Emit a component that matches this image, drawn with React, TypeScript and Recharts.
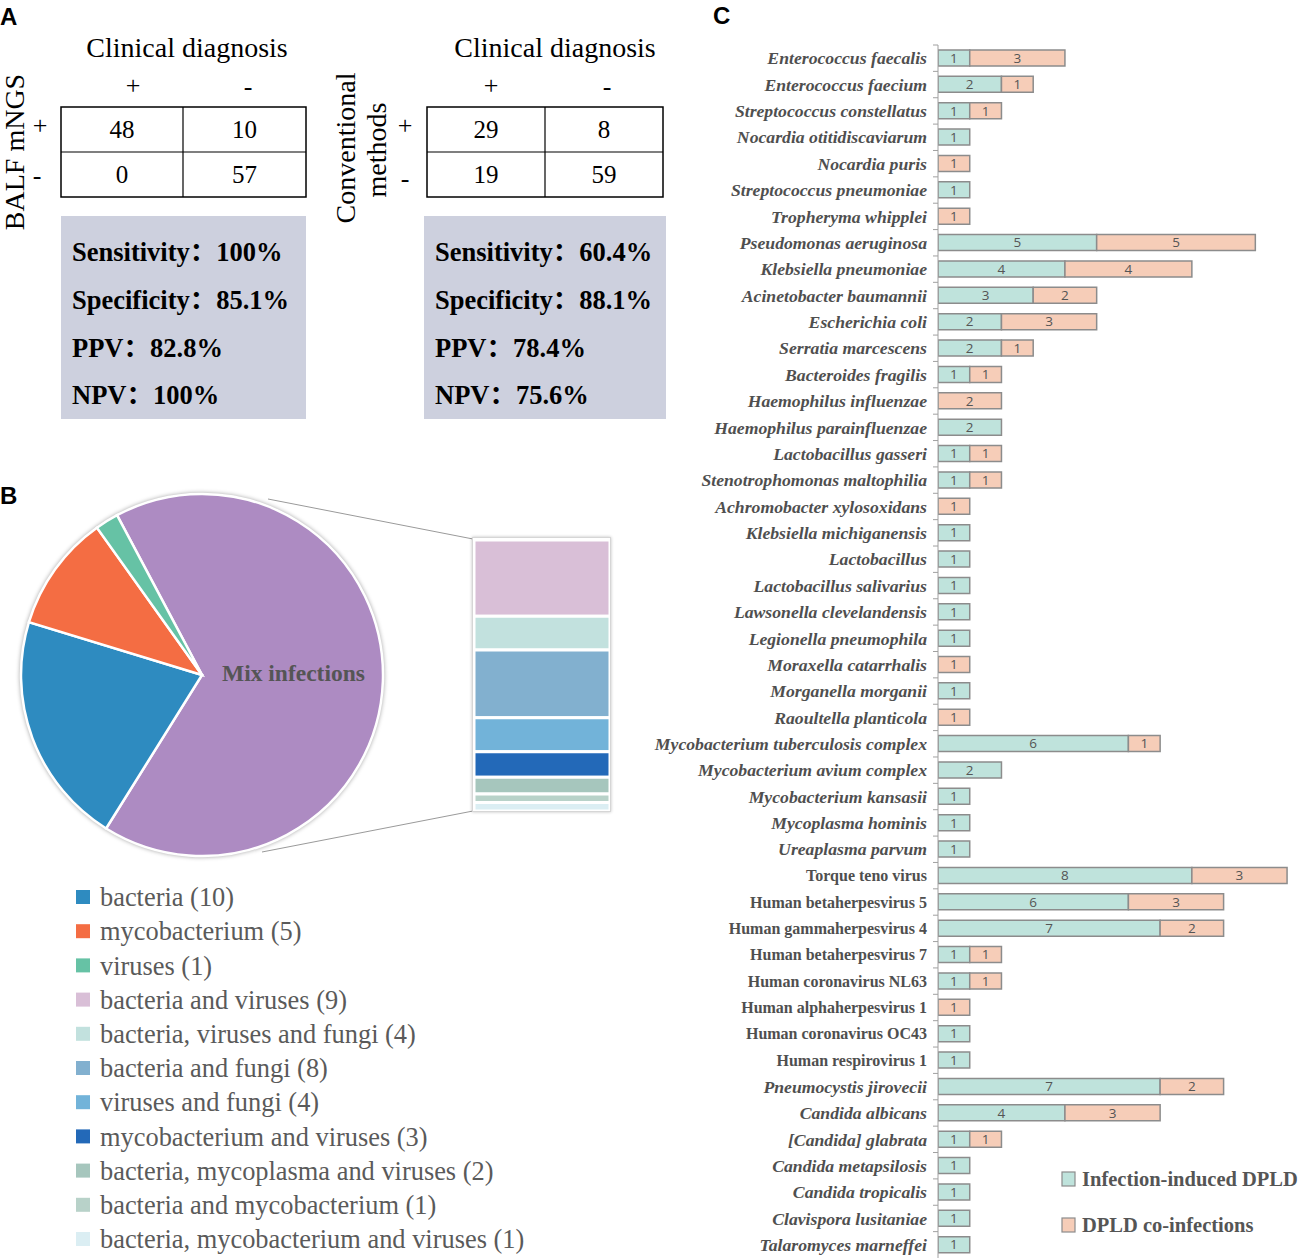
import { Bar, BarChart, Cell, LabelList, Pie, PieChart, XAxis, YAxis } from 'recharts'

const SERIF = '"Liberation Serif", "Times New Roman", "Noto Sans CJK SC", serif'
const SANS = '"Liberation Sans", Arial, sans-serif'

// ---- panel A ----
const mngsTable = [[48, 10], [0, 57]]
const conventionalTable = [[29, 8], [19, 59]]
const mngsStats = ['Sensitivity：100%', 'Specificity：85.1%', 'PPV：82.8%', 'NPV：100%']
const conventionalStats = ['Sensitivity：60.4%', 'Specificity：88.1%', 'PPV：78.4%', 'NPV：75.6%']

// ---- panel B ----
const pieNames = ['Mix infections', 'bacteria', 'mycobacterium', 'viruses']
const pieValues = [32, 10, 5, 1]
const pieColors = ['#ad8bc2', '#2e8bc0', '#f46d43', '#66c2a5']

const mixNames = [
  'bacteria and viruses',
  'bacteria, viruses and fungi',
  'bacteria and fungi',
  'viruses and fungi',
  'mycobacterium and viruses',
  'bacteria, mycoplasma and viruses',
  'bacteria and mycobacterium',
  'bacteria, mycobacterium and viruses',
]
const mixValues = [9, 4, 8, 4, 3, 2, 1, 1]
const mixColors = ['#d9bfd7', '#c2e1de', '#82b0cf', '#72b3d9', '#2369b8', '#a6c6bd', '#b8d2c9', '#dbeef3']

// ---- panel C ----
const pathogens = [
  'Enterococcus faecalis', 'Enterococcus faecium', 'Streptococcus constellatus', 'Nocardia otitidiscaviarum',
  'Nocardia puris', 'Streptococcus pneumoniae', 'Tropheryma whipplei', 'Pseudomonas aeruginosa',
  'Klebsiella pneumoniae', 'Acinetobacter baumannii', 'Escherichia coli', 'Serratia marcescens',
  'Bacteroides fragilis', 'Haemophilus influenzae', 'Haemophilus parainfluenzae', 'Lactobacillus gasseri',
  'Stenotrophomonas maltophilia', 'Achromobacter xylosoxidans', 'Klebsiella michiganensis', 'Lactobacillus',
  'Lactobacillus salivarius', 'Lawsonella clevelandensis', 'Legionella pneumophila', 'Moraxella catarrhalis',
  'Morganella morganii', 'Raoultella planticola', 'Mycobacterium tuberculosis complex', 'Mycobacterium avium complex',
  'Mycobacterium kansasii', 'Mycoplasma hominis', 'Ureaplasma parvum', 'Torque teno virus',
  'Human betaherpesvirus 5', 'Human gammaherpesvirus 4', 'Human betaherpesvirus 7', 'Human coronavirus NL63',
  'Human alphaherpesvirus 1', 'Human coronavirus OC43', 'Human respirovirus 1', 'Pneumocystis jirovecii',
  'Candida albicans', '[Candida] glabrata', 'Candida metapsilosis', 'Candida tropicalis',
  'Clavispora lusitaniae', 'Talaromyces marneffei',
]
const inducedCounts = [1, 2, 1, 1, 0, 1, 0, 5, 4, 3, 2, 2, 1, 0, 2, 1, 1, 0, 1, 1, 1, 1, 1, 0, 1, 0, 6, 2, 1, 1, 1, 8, 6, 7, 1, 1, 0, 1, 1, 7, 4, 1, 1, 1, 1, 1]
const coInfectionCounts = [3, 1, 1, 0, 1, 0, 1, 5, 4, 2, 3, 1, 1, 2, 0, 1, 1, 1, 0, 0, 0, 0, 0, 1, 0, 1, 1, 0, 0, 0, 0, 3, 3, 2, 1, 1, 1, 0, 0, 2, 3, 1, 0, 0, 0, 0]
const uprightNames = [
  'Torque teno virus', 'Human betaherpesvirus 5', 'Human gammaherpesvirus 4', 'Human betaherpesvirus 7',
  'Human coronavirus NL63', 'Human alphaherpesvirus 1', 'Human coronavirus OC43', 'Human respirovirus 1',
]
const seriesLabels = ['Infection-induced DPLD', 'DPLD co-infections']
const seriesColors = ['#bfe3dc', '#f6cdb8']

const pieData = pieNames.map((name, i) => ({ name, value: pieValues[i] }))
const mixRow = [Object.fromEntries(mixValues.map((v, i) => [`m${i}`, v]))]
const legendB = [
  ...pieNames.slice(1).map((n, i) => ({ label: `${n} (${pieValues[i + 1]})`, color: pieColors[i + 1] })),
  ...mixNames.map((n, i) => ({ label: `${n} (${mixValues[i]})`, color: mixColors[i] })),
]
const pathogenRows = pathogens.map((name, i) => ({ name, induced: inducedCounts[i], co: coInfectionCounts[i] }))

const hideZero = (v: any) => (v ? v : '')

function PathogenTick(props: any) {
  const { x, y, payload } = props
  const name = payload.value as string
  const upright = uprightNames.includes(name)
  const off = payload.offset ?? 13.2
  return (
    <g>
      <line x1={x + 6} x2={x + 11} y1={y - off} y2={y - off} stroke="#a0a0a0" strokeWidth={1} />
      <text
        x={x}
        y={y}
        dy="0.35em"
        textAnchor="end"
        fill="#4f4f4f"
        fontFamily={SERIF}
        fontWeight="bold"
        fontStyle={upright ? 'normal' : 'italic'}
        fontSize={upright ? 16 : 17.7}
      >
        {name}
      </text>
    </g>
  )
}

function ConfusionTable({ x0, x1, xm, values }: { x0: number; x1: number; xm: number; values: number[][] }) {
  const cols = [(x0 + xm) / 2, (xm + x1) / 2]
  const rows = [129.5, 174.5]
  return (
    <g>
      <rect x={x0} y={107} width={x1 - x0} height={90} fill="none" stroke="#000" strokeWidth={1.5} />
      <line x1={xm} x2={xm} y1={107} y2={197} stroke="#000" strokeWidth={1.2} />
      <line x1={x0} x2={x1} y1={152} y2={152} stroke="#000" strokeWidth={1.2} />
      {values.map((row, r) =>
        row.map((v, c) => (
          <text key={`${r}-${c}`} x={cols[c]} y={rows[r]} dy="0.35em" textAnchor="middle" fontFamily={SERIF} fontSize={25}>
            {v}
          </text>
        )),
      )}
    </g>
  )
}

function StatsBox({ x0, width, lines }: { x0: number; width: number; lines: string[] }) {
  return (
    <g>
      <rect x={x0} y={216} width={width} height={203} fill="#cdd0de" />
      {lines.map((t, i) => (
        <text key={t} x={x0 + 11} y={252 + i * 47.7} dy="0.35em" fontFamily={SERIF} fontWeight="bold" fontSize={26.5}>
          {t}
        </text>
      ))}
    </g>
  )
}

export default function App() {
  return (
    <div style={{ position: 'absolute', left: 0, top: 0, width: 1299, height: 1259, background: '#fff', overflow: 'hidden' }}>
      <svg width={1299} height={1259} style={{ position: 'absolute', left: 0, top: 0 }}>
        {/* panel letters */}
        <text x={0} y={25} fontFamily={SANS} fontWeight="bold" fontSize={24}>A</text>
        <text x={0} y={504} fontFamily={SANS} fontWeight="bold" fontSize={24}>B</text>
        <text x={713} y={24} fontFamily={SANS} fontWeight="bold" fontSize={24}>C</text>

        {/* panel A, left table */}
        <text x={187} y={47} dy="0.35em" textAnchor="middle" fontFamily={SERIF} fontSize={28}>Clinical diagnosis</text>
        <text x={133} y={85} dy="0.35em" textAnchor="middle" fontFamily={SERIF} fontSize={26}>+</text>
        <text x={248} y={86} dy="0.35em" textAnchor="middle" fontFamily={SERIF} fontSize={26}>-</text>
        <text transform="translate(14,152) rotate(-90)" dy="0.35em" textAnchor="middle" fontFamily={SERIF} fontSize={28}>BALF mNGS</text>
        <text x={40} y={125} dy="0.35em" textAnchor="middle" fontFamily={SERIF} fontSize={26}>+</text>
        <text x={37} y={175} dy="0.35em" textAnchor="middle" fontFamily={SERIF} fontSize={26}>-</text>
        <ConfusionTable x0={61} x1={306} xm={183} values={mngsTable} />
        <StatsBox x0={61} width={245} lines={mngsStats} />

        {/* panel A, right table */}
        <text x={555} y={47} dy="0.35em" textAnchor="middle" fontFamily={SERIF} fontSize={28}>Clinical diagnosis</text>
        <text x={491} y={85} dy="0.35em" textAnchor="middle" fontFamily={SERIF} fontSize={26}>+</text>
        <text x={607} y={86} dy="0.35em" textAnchor="middle" fontFamily={SERIF} fontSize={26}>-</text>
        <text transform="translate(345,148) rotate(-90)" dy="0.35em" textAnchor="middle" fontFamily={SERIF} fontSize={28}>Conventional</text>
        <text transform="translate(376,150) rotate(-90)" dy="0.35em" textAnchor="middle" fontFamily={SERIF} fontSize={28}>methods</text>
        <text x={405} y={125} dy="0.35em" textAnchor="middle" fontFamily={SERIF} fontSize={26}>+</text>
        <text x={405} y={178} dy="0.35em" textAnchor="middle" fontFamily={SERIF} fontSize={26}>-</text>
        <ConfusionTable x0={427} x1={663} xm={545} values={conventionalTable} />
        <StatsBox x0={424} width={242} lines={conventionalStats} />

        {/* zoom lines, panel B */}
        <line x1={268} y1={499} x2={473} y2={539} stroke="#9a9a9a" strokeWidth={1} />
        <line x1={262} y1={852} x2={473} y2={811} stroke="#9a9a9a" strokeWidth={1} />

        {/* legend B */}
        {legendB.map((item, i) => (
          <g key={item.label}>
            <rect x={76} y={890 + i * 34.2} width={14} height={14} fill={item.color} />
            <text x={100} y={897 + i * 34.2} dy="0.35em" fontFamily={SERIF} fontSize={26.4} fill="#5a5a5a">
              {item.label}
            </text>
          </g>
        ))}

        {/* legend C */}
        {seriesLabels.map((label, i) => (
          <g key={label}>
            <rect x={1062} y={1172 + i * 46} width={13} height={14} fill={seriesColors[i]} stroke="#8c8c8c" strokeWidth={1.2} />
            <text x={1082} y={1179 + i * 46} dy="0.35em" fontFamily={SERIF} fontWeight="bold" fontSize={20.5} fill="#555">
              {label}
            </text>
          </g>
        ))}
      </svg>

      {/* pie */}
      <div style={{ position: 'absolute', left: 0, top: 465, filter: 'drop-shadow(0 0 2px rgba(0,0,0,0.35))' }}>
        <PieChart width={420} height={420} margin={{ top: 0, right: 0, bottom: 0, left: 0 }}>
          <Pie
            data={pieData}
            dataKey="value"
            nameKey="name"
            cx={202}
            cy={210}
            outerRadius={181}
            startAngle={118}
            endAngle={-242}
            stroke="#fff"
            strokeWidth={2.5}
            isAnimationActive={false}
          >
            {pieData.map((d, i) => (
              <Cell key={d.name} fill={pieColors[i]} />
            ))}
          </Pie>
        </PieChart>
      </div>
      <div
        style={{
          position: 'absolute', left: 222, top: 658, fontFamily: SERIF, fontWeight: 'bold', fontSize: 23.5,
          color: '#555', whiteSpace: 'nowrap', lineHeight: '30px',
        }}
      >
        Mix infections
      </div>

      {/* mix breakdown bar */}
      <div
        style={{
          position: 'absolute', left: 472, top: 537, width: 137, height: 273, background: '#fff',
          border: '1px solid #d6d6d6', boxShadow: '0 0 3px rgba(0,0,0,0.25)',
        }}
      />
      <div style={{ position: 'absolute', left: 473.5, top: 539.5 }}>
        <BarChart width={136} height={271} data={mixRow} margin={{ top: 0, right: 0, bottom: 0, left: 0 }} barCategoryGap={0}>
          <XAxis hide />
          <YAxis hide reversed domain={[0, 32]} allowDataOverflow />
          {mixValues.map((_, i) => (
            <Bar key={i} dataKey={`m${i}`} stackId="mix" fill={mixColors[i]} stroke="#fff" strokeWidth={3} isAnimationActive={false} />
          ))}
        </BarChart>
      </div>

      {/* panel C */}
      <div style={{ position: 'absolute', left: 640, top: 0 }}>
        <BarChart
          layout="vertical"
          width={659}
          height={1259}
          data={pathogenRows}
          margin={{ top: 45, right: 4, bottom: 1, left: 0 }}
          barSize={16}
        >
          <XAxis type="number" domain={[0, 11.25]} allowDataOverflow hide />
          <YAxis
            type="category"
            dataKey="name"
            width={298}
            interval={0}
            tickLine={false}
            tickSize={5}
            tickMargin={6}
            axisLine={{ stroke: '#a0a0a0' }}
            tick={<PathogenTick />}
          />
          <Bar dataKey="induced" stackId="c" fill={seriesColors[0]} stroke="#8c8c8c" strokeWidth={1.5} isAnimationActive={false}>
            <LabelList dataKey="induced" position="center" formatter={hideZero} fill="#555" fontSize={13.5} fontFamily='"Open Sans", sans-serif' />
          </Bar>
          <Bar dataKey="co" stackId="c" fill={seriesColors[1]} stroke="#8c8c8c" strokeWidth={1.5} isAnimationActive={false}>
            <LabelList dataKey="co" position="center" formatter={hideZero} fill="#555" fontSize={13.5} fontFamily='"Open Sans", sans-serif' />
          </Bar>
        </BarChart>
      </div>
    </div>
  )
}
